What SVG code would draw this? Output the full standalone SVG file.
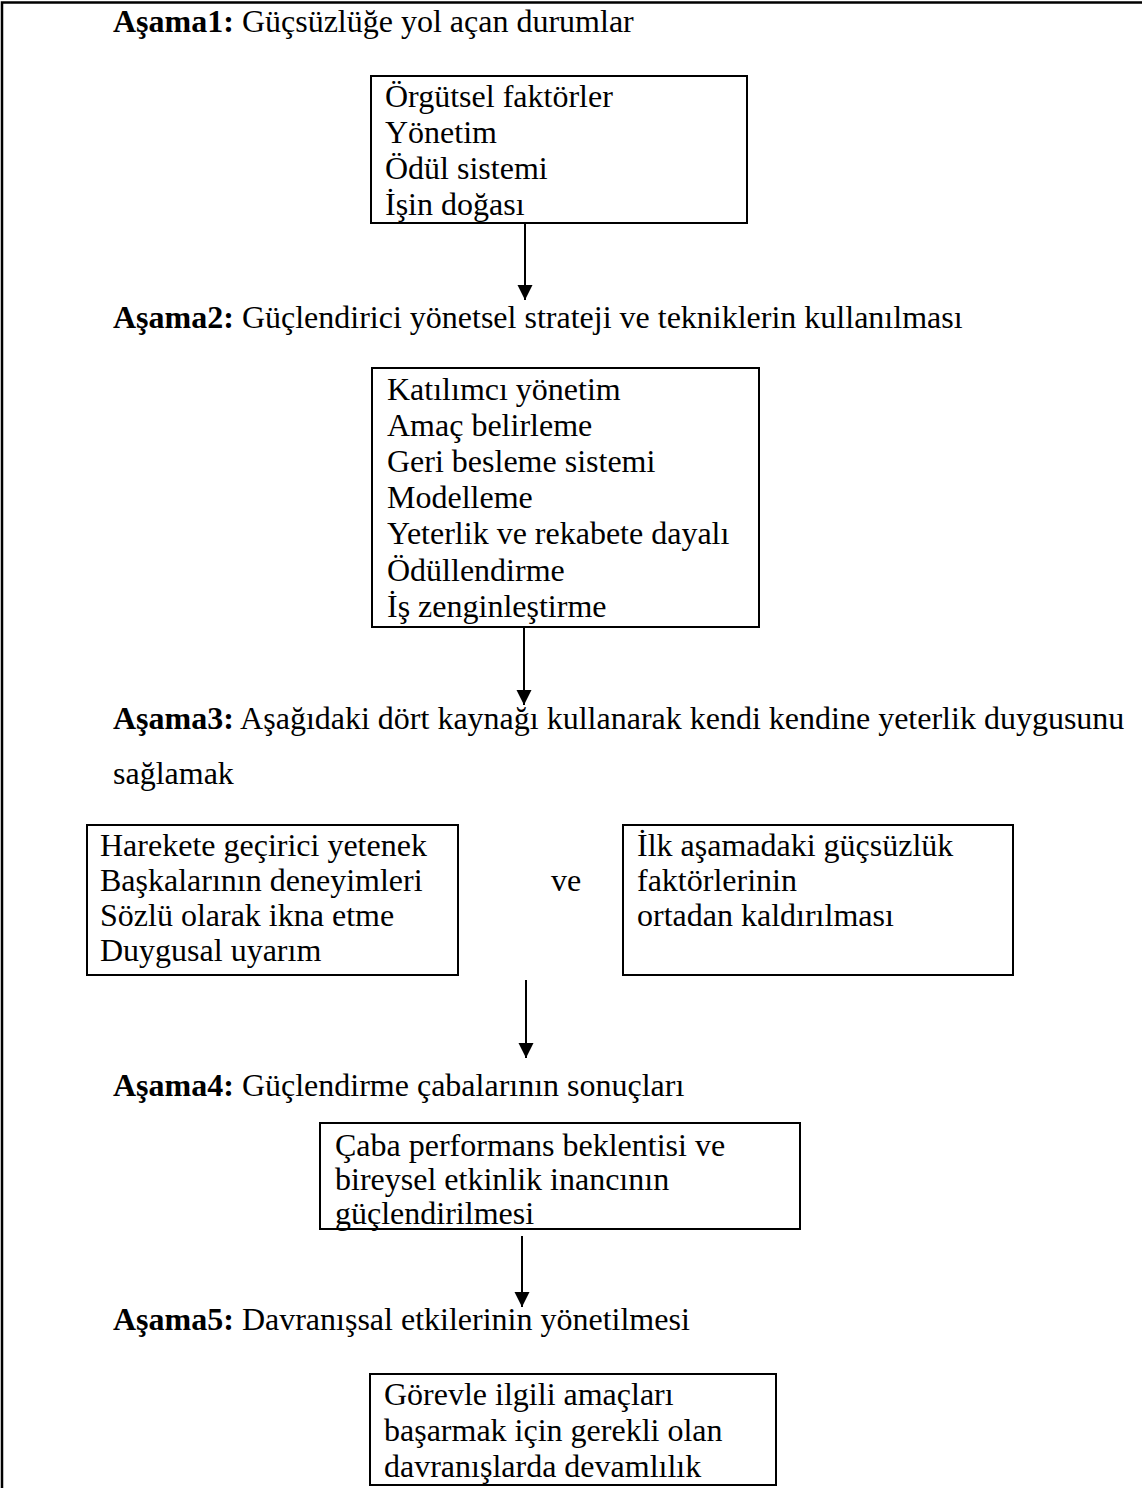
<svg xmlns="http://www.w3.org/2000/svg" width="1142" height="1488" viewBox="0 0 1142 1488">
<style>
text{font-family:"Liberation Serif","Times New Roman",serif;font-size:32px;fill:#000}
.b{font-weight:bold}
.box{fill:#fff;stroke:#000;stroke-width:2}
.frame{fill:none;stroke:#000;stroke-width:2.5}
.conn{stroke:#000;stroke-width:2;fill:none}
</style>
<defs>
<marker id="ah" markerUnits="userSpaceOnUse" markerWidth="16" markerHeight="16" refX="15" refY="7.5" orient="auto">
<path d="M0,0 L15,7.5 L0,15 z" fill="#000"/>
</marker>
</defs>
<rect width="1142" height="1488" fill="#fff"/>
<path class="frame" d="M2,1488 V2.5 H1142"/>

<g id="stage1">
<text x="113" y="32"><tspan class="b">Aşama1:</tspan> Güçsüzlüğe yol açan durumlar</text>
</g>
<g id="box1">
<rect class="box" x="371" y="76" width="376" height="147"/>
<text x="385" y="107">Örgütsel faktörler</text>
<text x="385" y="143">Yönetim</text>
<text x="385" y="179">Ödül sistemi</text>
<text x="385" y="215">İşin doğası</text>
</g>
<g id="stage2">
<text x="113" y="328"><tspan class="b">Aşama2:</tspan> Güçlendirici yönetsel strateji ve tekniklerin kullanılması</text>
</g>
<g id="box2">
<rect class="box" x="372" y="368" width="387" height="259"/>
<text x="387" y="400">Katılımcı yönetim</text>
<text x="387" y="436">Amaç belirleme</text>
<text x="387" y="472">Geri besleme sistemi</text>
<text x="387" y="508">Modelleme</text>
<text x="387" y="544">Yeterlik ve rekabete dayalı</text>
<text x="387" y="581">Ödüllendirme</text>
<text x="387" y="617">İş zenginleştirme</text>
</g>
<g id="stage3">
<text x="113" y="729"><tspan class="b">Aşama3:</tspan> Aşağıdaki dört kaynağı kullanarak kendi kendine yeterlik duygusunu</text>
<text x="113" y="784">sağlamak</text>
</g>
<g id="box3a">
<rect class="box" x="87" y="825" width="371" height="150"/>
<text x="100" y="856">Harekete geçirici yetenek</text>
<text x="100" y="891">Başkalarının deneyimleri</text>
<text x="100" y="926">Sözlü olarak ikna etme</text>
<text x="100" y="961">Duygusal uyarım</text>
</g>
<g id="and">
<text x="551" y="891">ve</text>
</g>
<g id="box3b">
<rect class="box" x="623" y="825" width="390" height="150"/>
<text x="637" y="856">İlk aşamadaki güçsüzlük</text>
<text x="637" y="891">faktörlerinin</text>
<text x="637" y="926">ortadan kaldırılması</text>
</g>
<g id="stage4">
<text x="113" y="1096"><tspan class="b">Aşama4:</tspan> Güçlendirme çabalarının sonuçları</text>
</g>
<g id="box4">
<rect class="box" x="320" y="1123" width="480" height="106"/>
<text x="335" y="1156">Çaba performans beklentisi ve</text>
<text x="335" y="1190">bireysel etkinlik inancının</text>
<text x="335" y="1224">güçlendirilmesi</text>
</g>
<g id="stage5">
<text x="113" y="1330"><tspan class="b">Aşama5:</tspan> Davranışsal etkilerinin yönetilmesi</text>
</g>
<g id="box5">
<rect class="box" x="370" y="1374" width="406" height="111"/>
<text x="384" y="1405">Görevle ilgili amaçları</text>
<text x="384" y="1441">başarmak için gerekli olan</text>
<text x="384" y="1477">davranışlarda devamlılık</text>
</g>
<g id="connectors">
<line class="conn" x1="525" y1="224" x2="525" y2="300" marker-end="url(#ah)"/>
<line class="conn" x1="524" y1="628" x2="524" y2="705" marker-end="url(#ah)"/>
<line class="conn" x1="526" y1="980" x2="526" y2="1058" marker-end="url(#ah)"/>
<line class="conn" x1="522" y1="1236" x2="522" y2="1307" marker-end="url(#ah)"/>
</g>
</svg>
